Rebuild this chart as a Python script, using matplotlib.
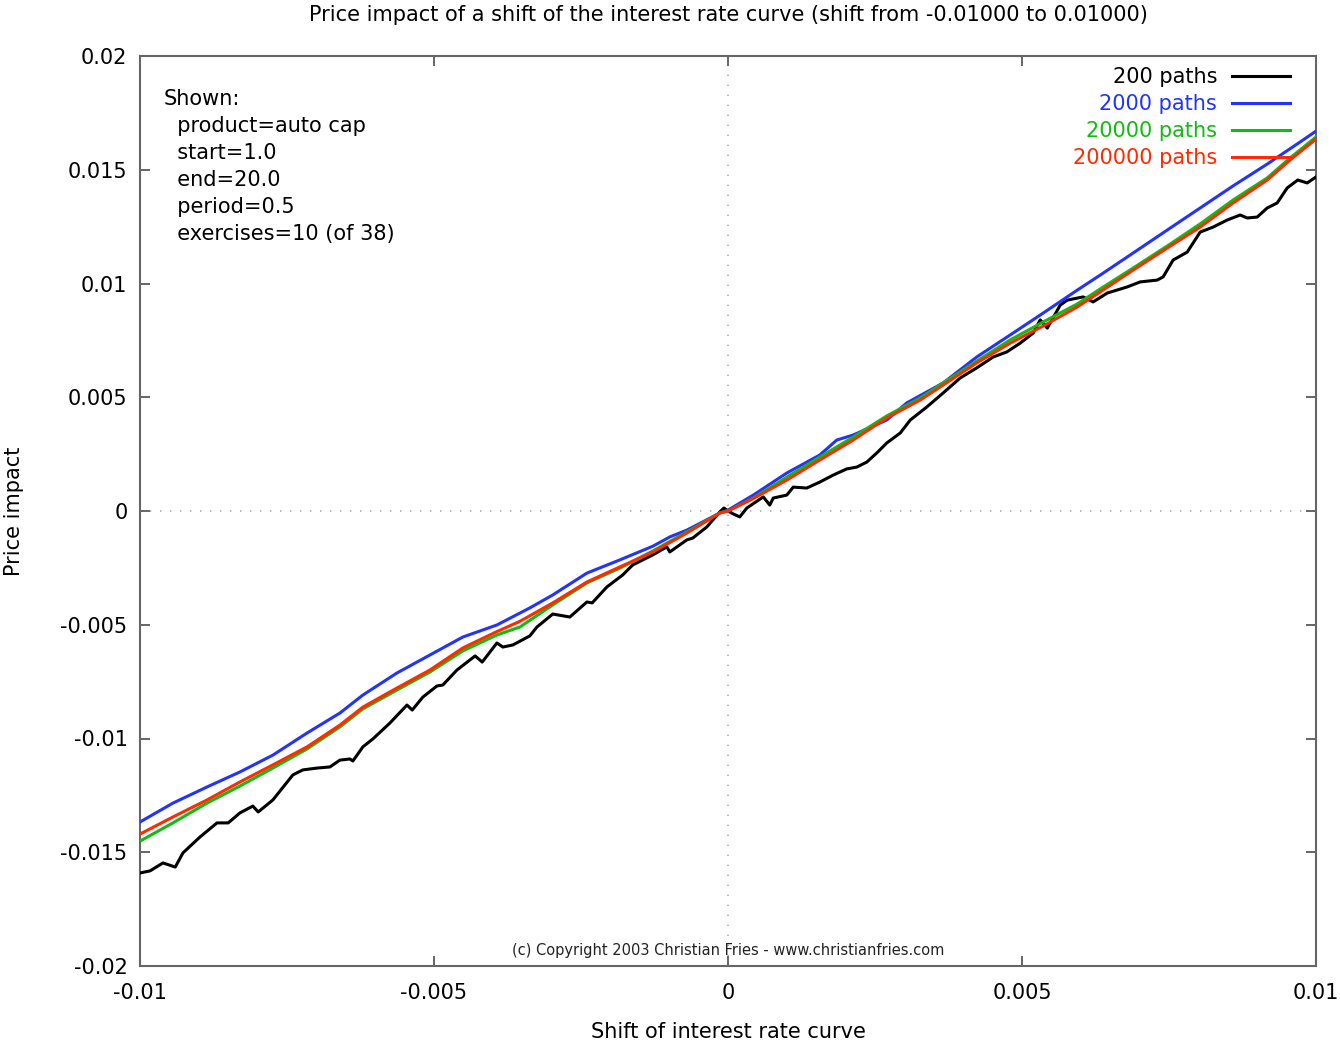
import numpy as np
import matplotlib
matplotlib.use("Agg")
import matplotlib.pyplot as plt
from matplotlib.transforms import offset_copy

plt.rcParams['font.family'] = ['DejaVu Sans']

# Shift values are given in units of 1e-3, price impact in units of 1e-3
# 200 paths
x200 = [-10.0, -9.83, -9.61, -9.40, -9.27, -8.98, -8.69, -8.50, -8.30, -8.08, -7.99, -7.74,
        -7.40, -7.23, -6.99, -6.77, -6.60, -6.43, -6.38, -6.21, -6.04, -5.75, -5.46, -5.37,
        -5.19, -4.95, -4.85, -4.61, -4.30, -4.18, -3.93, -3.83, -3.66, -3.37, -3.25, -2.98,
        -2.69, -2.40, -2.31, -2.06, -1.79, -1.62, -1.28, -1.04, -0.99, -0.70, -0.60, -0.36,
        -0.14, -0.07, 0.0, 0.09, 0.20, 0.32, 0.60, 0.71, 0.77, 1.00, 1.11, 1.34, 1.56, 1.79,
        2.02, 2.19, 2.36, 2.53, 2.70, 2.93, 3.10, 3.38, 3.66, 3.95, 4.23, 4.51, 4.74, 4.97,
        5.19, 5.31, 5.43, 5.65, 5.77, 6.04, 6.21, 6.45, 6.79, 7.01, 7.30, 7.40, 7.57, 7.81,
        8.03, 8.25, 8.49, 8.71, 8.83, 9.00, 9.17, 9.34, 9.51, 9.69, 9.85, 10.0]
y200 = [-15.91, -15.82, -15.47, -15.65, -15.03, -14.33, -13.71, -13.71, -13.27, -12.97, -13.23, -12.70,
        -11.60, -11.38, -11.30, -11.25, -10.95, -10.90, -10.99, -10.37, -10.02, -9.32, -8.53, -8.75,
        -8.18, -7.69, -7.65, -6.99, -6.37, -6.64, -5.80, -5.98, -5.89, -5.49, -5.10, -4.53,
        -4.66, -4.00, -4.04, -3.34, -2.81, -2.37, -1.93, -1.58, -1.80, -1.27, -1.19, -0.70,
        -0.04, 0.13, 0.0, -0.13, -0.26, 0.13, 0.62, 0.26, 0.57, 0.70, 1.05, 1.01, 1.27, 1.58,
        1.85, 1.93, 2.15, 2.55, 2.99, 3.43, 4.00, 4.57, 5.19, 5.85, 6.29, 6.77, 6.99, 7.38,
        7.82, 8.40, 8.04, 9.05, 9.27, 9.41, 9.19, 9.58, 9.85, 10.07, 10.15, 10.29, 11.03, 11.38,
        12.26, 12.48, 12.79, 13.01, 12.88, 12.92, 13.32, 13.54, 14.20, 14.55, 14.42, 14.68]

# 2000 paths
x2000 = [-10.0, -9.44, -8.86, -8.30, -7.74, -7.16, -6.60, -6.21, -5.63, -5.07, -4.51, -3.93,
         -3.37, -2.98, -2.40, -1.84, -1.28, -0.99, -0.70, -0.14, 0.0, 0.43, 1.00, 1.56, 1.85,
         2.13, 2.70, 3.04, 3.66, 4.23, 4.80, 5.36, 5.94, 6.33, 6.89, 7.47, 8.03, 8.59, 9.17,
         9.73, 10.0]
y2000 = [-13.67, -12.84, -12.13, -11.47, -10.73, -9.76, -8.88, -8.09, -7.12, -6.33, -5.54, -5.01,
         -4.26, -3.69, -2.73, -2.15, -1.55, -1.14, -0.84, -0.09, 0.04, 0.70, 1.67, 2.46, 3.12,
         3.34, 4.00, 4.75, 5.63, 6.77, 7.74, 8.70, 9.71, 10.37, 11.34, 12.35, 13.32, 14.29, 15.25,
         16.22, 16.70]

# 20000 paths
x20000 = [-10.0, -9.44, -8.86, -8.30, -7.74, -7.16, -6.60, -6.21, -5.63, -5.07, -4.51, -3.93,
          -3.54, -2.98, -2.40, -1.84, -1.28, -0.70, -0.14, 0.0, 0.43, 1.00, 1.56, 2.13, 2.70,
          3.27, 3.66, 4.23, 4.80, 5.36, 5.94, 6.33, 6.89, 7.47, 8.03, 8.59, 9.17, 9.56, 10.0]
y20000 = [-14.51, -13.71, -12.84, -12.09, -11.30, -10.46, -9.49, -8.70, -7.87, -7.08, -6.15, -5.45,
          -5.10, -4.13, -3.16, -2.51, -1.76, -0.92, -0.09, 0.0, 0.57, 1.49, 2.37, 3.25, 4.18,
          4.97, 5.63, 6.59, 7.52, 8.31, 9.10, 9.76, 10.68, 11.65, 12.62, 13.67, 14.64, 15.52, 16.44]

# 200000 paths
x200000 = [-10.0, -9.44, -8.86, -8.30, -7.74, -7.16, -6.60, -6.21, -5.63, -5.07, -4.51, -3.93,
           -3.54, -2.98, -2.40, -1.84, -1.28, -0.70, -0.14, 0.0, 0.43, 1.00, 1.56, 2.13, 2.70,
           3.27, 3.66, 4.23, 4.80, 5.36, 5.94, 6.33, 6.89, 7.47, 8.03, 8.59, 9.17, 9.56, 10.0]
y200000 = [-14.20, -13.45, -12.70, -11.91, -11.16, -10.37, -9.41, -8.62, -7.78, -6.99, -6.02, -5.30,
           -4.85, -4.04, -3.12, -2.46, -1.80, -0.97, -0.09, 0.0, 0.55, 1.36, 2.24, 3.12, 4.09,
           4.88, 5.54, 6.51, 7.38, 8.13, 8.97, 9.63, 10.59, 11.56, 12.48, 13.54, 14.55, 15.43, 16.35]

series_labels = ["200 paths", "2000 paths", "20000 paths", "200000 paths"]
series_colors = ["#000000", "#2233ff", "#11bb11", "#ff2a00"]

xticks = [-0.01, -0.005, 0.0, 0.005, 0.01]
xtick_labels = ["-0.01", "-0.005", "0", "0.005", "0.01"]
yticks = [-0.02, -0.015, -0.01, -0.005, 0.0, 0.005, 0.01, 0.015, 0.02]
ytick_labels = ["-0.02", "-0.015", "-0.01", "-0.005", "0", "0.005", "0.01", "0.015", "0.02"]

info_lines = ["Shown:", "  product=auto cap", "  start=1.0", "  end=20.0", "  period=0.5",
              "  exercises=10 (of 38)"]

fig = plt.figure(figsize=(13.4, 10.48), dpi=100)
ax = fig.add_axes([140/1340, 1-966/1048, 1176/1340, 910/1048])

scale = 1e-3
ax.axhline(0, color="#aaaaaa", lw=1.2, ls=(0, (0.8, 5.2)), zorder=1)
ax.axvline(0, color="#aaaaaa", lw=1.2, ls=(0, (0.8, 5.2)), zorder=1)

series = [(x200, y200), (x2000, y2000), (x20000, y20000), (x200000, y200000)]
for (xs, ys), lab, col in zip(series, series_labels, series_colors):
    ax.plot(np.array(xs)*scale, np.array(ys)*scale, color=col, lw=2.2, label=lab, zorder=3)

ax.set_xlim(-0.01, 0.01)
ax.set_ylim(-0.02, 0.02)
ax.set_xticks(xticks)
ax.set_xticklabels(xtick_labels)
ax.set_yticks(yticks)
ax.set_yticklabels(ytick_labels)
ax.tick_params(direction="in", length=7, width=1.4, color="#666666", labelsize=15,
               top=True, right=True)
ax.tick_params(axis="x", pad=12)
ax.tick_params(axis="y", pad=9)
for sp in ax.spines.values():
    sp.set_color("#666666")
    sp.set_linewidth(1.5)

ax.set_xlabel("Shift of interest rate curve", fontsize=15, labelpad=14)
ax.set_ylabel("Price impact", fontsize=15, labelpad=26)
ax.set_title("Price impact of a shift of the interest rate curve (shift from -0.01000 to 0.01000)",
             fontsize=15, pad=25)

leg = ax.legend(loc="upper right", bbox_to_anchor=((1290-140)/1176, (966-67)/910),
                frameon=False, markerfirst=False, labelcolor="linecolor", fontsize=15,
                handlelength=2.8, handletextpad=0.7, labelspacing=0.34,
                borderpad=0, borderaxespad=0)

for i, line in enumerate(info_lines):
    tr = offset_copy(ax.transAxes, fig=fig, x=0, y=-i*27*0.72, units="points")
    ax.text((164-140)/1176, (966-99)/910, line, transform=tr, fontsize=15,
            ha="left", va="center")

ax.text(0.5, (966-950)/910, "(c) Copyright 2003 Christian Fries - www.christianfries.com",
        transform=ax.transAxes, fontsize=10.5, ha="center", va="center", color="#222222")

fig.savefig("out.png", dpi=100)
